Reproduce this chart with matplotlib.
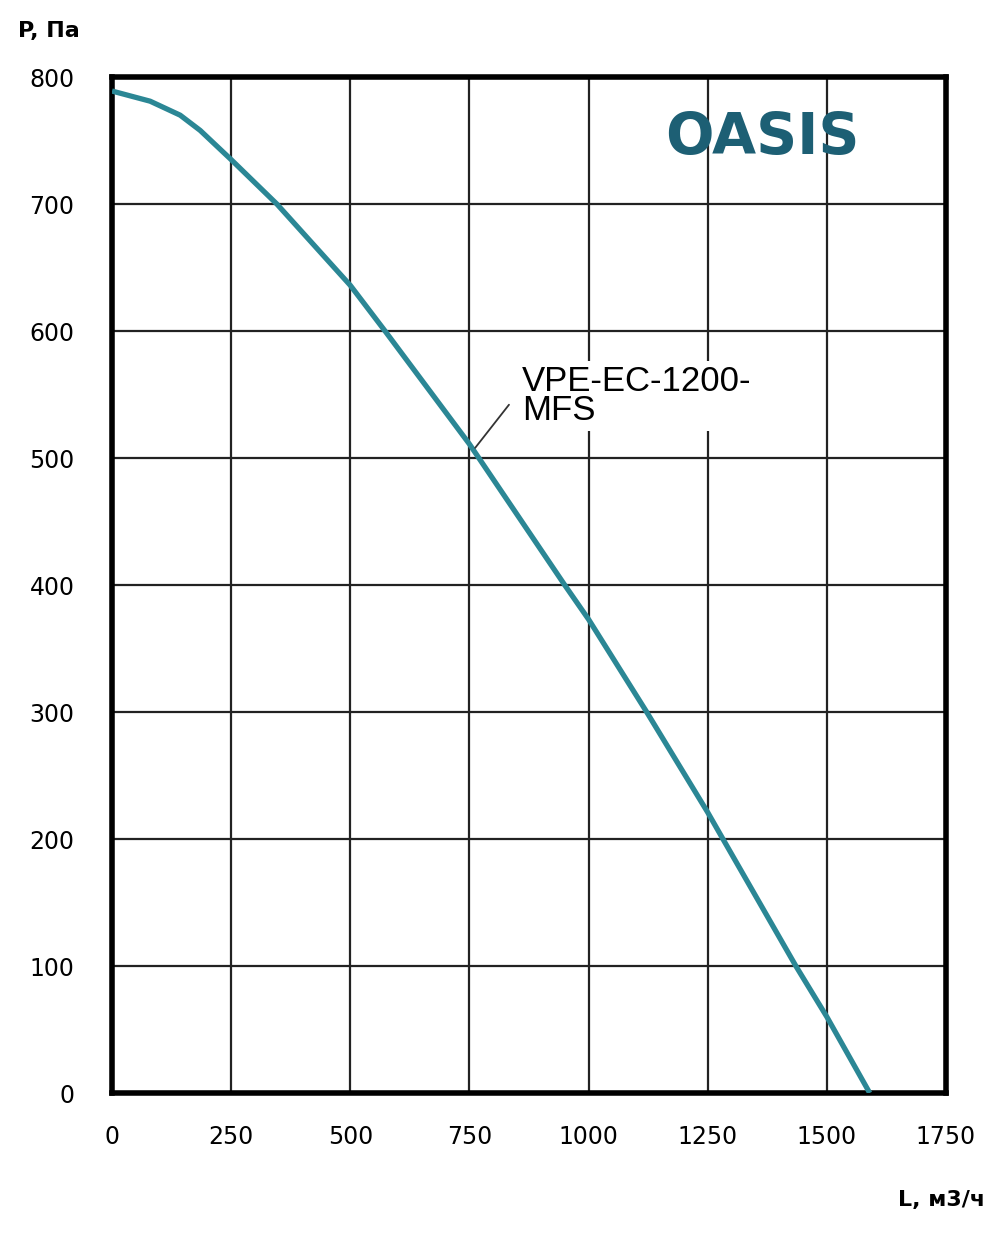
import matplotlib
matplotlib.use("Agg")
import matplotlib.pyplot as plt

# fan curve
flow = [0, 80, 143, 185, 250, 346, 500, 573, 750, 950, 1000, 1122, 1250, 1282, 1435, 1500, 1590]
pressure = [789, 781, 770, 758, 735, 700, 636, 600, 511, 400, 373, 300, 221, 200, 100, 60, 0]

x_ticks = [0, 250, 500, 750, 1000, 1250, 1500, 1750]
y_ticks = [0, 100, 200, 300, 400, 500, 600, 700, 800]

curve_color = "#2b8795"
brand_color = "#1d5f74"

fig = plt.figure(figsize=(10, 12.33), dpi=100)
ax = fig.add_axes([0.112, 0.1135, 0.834, 0.8240])

ax.set_xlim(0, 1750)
ax.set_ylim(0, 800)
ax.set_xticks(x_ticks)
ax.set_yticks(y_ticks)
ax.tick_params(length=0, labelsize=17, colors="black")
ax.tick_params(axis="x", pad=23)
ax.tick_params(axis="y", pad=27)

ax.grid(True, color="#222222", linewidth=1.6)
ax.set_axisbelow(True)
for s in ax.spines.values():
    s.set_linewidth(4)
    s.set_color("black")

ax.plot(flow, pressure, color=curve_color, linewidth=3.8,
        solid_capstyle="butt", solid_joinstyle="round", zorder=3)

# model label with a white box and a thin leader
ax.text(861, 573, "VPE-EC-1200-\nMFS", fontsize=25, family="Liberation Sans",
        color="black", ha="left", va="top", linespacing=0.82,
        bbox=dict(boxstyle="square,pad=0.12", fc="white", ec="none"), zorder=4)
ax.annotate("", xy=(762, 508), xytext=(833, 542),
            arrowprops=dict(arrowstyle="-", color="#333333", lw=1.3,
                            shrinkA=0, shrinkB=0), zorder=4)

ax.text(0.78, 0.94, "OASIS", transform=ax.transAxes, fontsize=41,
        fontweight="bold", color=brand_color, ha="center", va="center",
        family="DejaVu Sans")

fig.text(0.018, 0.975, "P, Па", fontsize=16, fontweight="bold", ha="left", va="center")
fig.text(0.985, 0.027, "L, м3/ч", fontsize=16, fontweight="bold", ha="right", va="center")

fig.savefig("out.png", dpi=100)
